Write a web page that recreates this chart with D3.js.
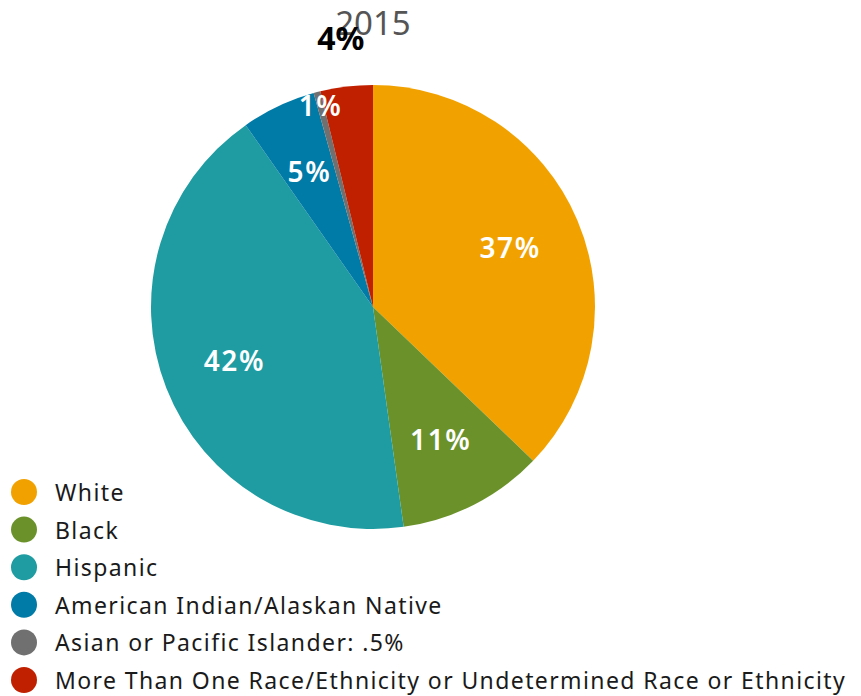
<!DOCTYPE html>
<meta charset="utf-8">
<style>
body { margin: 0; background: #fff; font-family: "Noto Sans", sans-serif; }
.legend text { font-size: 23px; letter-spacing: 1.4px; fill: #1a1a1a; }
.title { font-size: 33px; fill: #555; }
.slice-label { font-size: 28px; font-weight: 600; letter-spacing: 1.6px; fill: #fff; }
</style>
<body>
<script src="https://cdn.jsdelivr.net/npm/d3@7"></script>
<script>
// data (2015)
var categories = ["White", "Black", "Hispanic", "American Indian/Alaskan Native",
  "Asian or Pacific Islander: .5%",
  "More Than One Race/Ethnicity or Undetermined Race or Ethnicity"];
var values = [37.1, 10.6, 42.4, 5.4, 0.5, 3.8];
var colors = ["#f2a200", "#6b922a", "#1e9ca1", "#007aa6", "#707070", "#c02000"];
var title = "2015";

var width = 861, height = 696;
var cx = 373, cy = 307, radius = 222;

var svg = d3.select("body").append("svg")
  .attr("width", width)
  .attr("height", height);

var data = categories.map(function(c, i) { return {name: c, value: values[i]}; });

var pie = d3.pie().sort(null).value(function(d) { return d.value; });
var arc = d3.arc().innerRadius(0).outerRadius(radius);

var color = d3.scaleOrdinal().domain(categories).range(colors);

svg.append("text")
  .attr("class", "title")
  .attr("x", cx)
  .attr("y", 35)
  .attr("text-anchor", "middle")
  .text(title);

var g = svg.append("g")
  .attr("transform", "translate(" + cx + "," + cy + ")");

var arcs = pie(data);

g.selectAll("path")
  .data(arcs)
  .enter().append("path")
  .attr("d", arc)
  .attr("fill", function(d) { return color(d.data.name); });

// labels: big slices inside, tiny ones pushed outwards
function labelRadius(d) {
  if (d.data.value >= 5) return 149;
  if (d.data.value >= 1) return 270;
  return 208;
}
g.selectAll(".slice-label")
  .data(arcs)
  .enter().append("text")
  .attr("class", "slice-label")
  .attr("transform", function(d) {
    var a = (d.startAngle + d.endAngle) / 2, r = labelRadius(d);
    return "translate(" + (Math.sin(a) * r) + "," + (-Math.cos(a) * r) + ")";
  })
  .attr("text-anchor", "middle")
  .attr("dy", "0.35em")
  .style("fill", function(d) { return labelRadius(d) > radius ? "#000" : "#fff"; })
  .style("font-size", function(d) { return labelRadius(d) > radius ? "32px" : null; })
  .style("font-weight", function(d) { return labelRadius(d) > radius ? 700 : null; })
  .style("letter-spacing", function(d) { return labelRadius(d) > radius ? "0px" : null; })
  .text(function(d) { return Math.round(d.data.value) + "%"; });

// legend
var legend = svg.append("g")
  .attr("class", "legend")
  .attr("transform", "translate(24,492)");

var row = legend.selectAll("g")
  .data(categories)
  .enter().append("g")
  .attr("transform", function(d, i) { return "translate(0," + (i * 37.6) + ")"; });

row.append("circle")
  .attr("r", 13)
  .attr("fill", function(d) { return color(d); });

row.append("text")
  .attr("x", 31)
  .attr("y", 9)
  .text(function(d) { return d; });
</script>
</body>
